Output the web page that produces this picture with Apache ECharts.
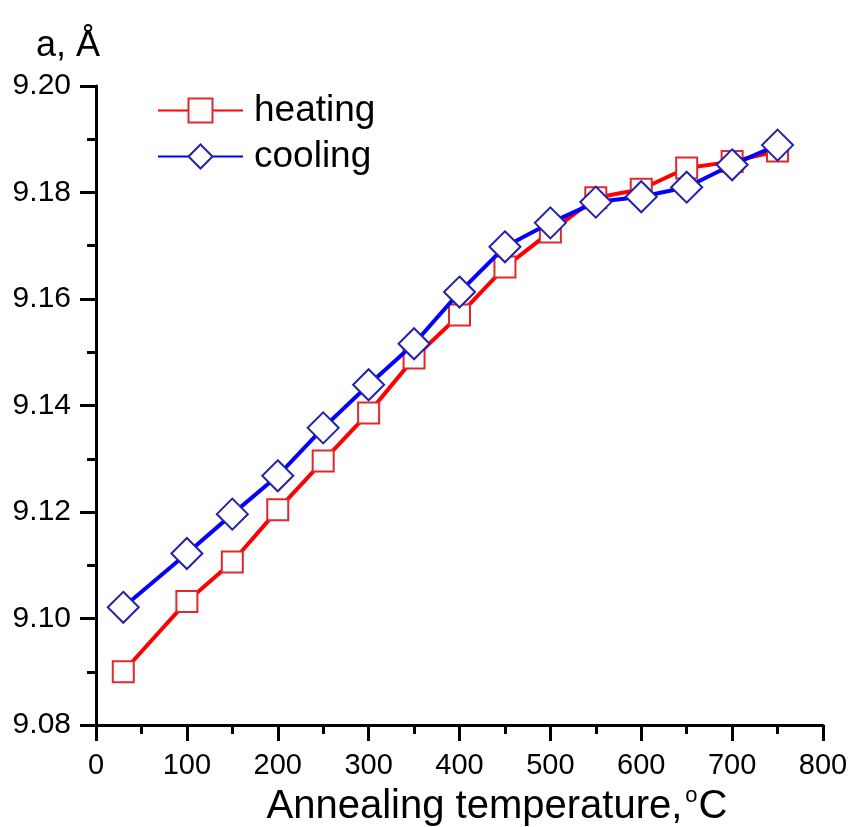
<!DOCTYPE html>
<html>
<head>
<meta charset="utf-8">
<script src="https://cdn.jsdelivr.net/npm/echarts@6/dist/echarts.min.js"></script>
<style>
html,body{margin:0;padding:0;background:#fff;}
#chart{width:851px;height:827px;}
</style>
</head>
<body>
<div id="chart"></div>
<script>
// annealing temperature, °C
const temps = [30, 100, 150, 200, 250, 300, 350, 400, 450, 500, 550, 600, 650, 700, 750]
// lattice parameter a, Å
const heating = [9.0900, 9.1032, 9.1106, 9.1204, 9.1296, 9.1386, 9.1489, 9.1570, 9.1660, 9.1726, 9.1790, 9.1806, 9.1846, 9.1858, 9.1878]
const cooling = [9.1021, 9.1122, 9.1196, 9.1268, 9.1358, 9.1439, 9.1516, 9.1613, 9.1698, 9.1743, 9.1782, 9.1792, 9.1810, 9.1852, 9.1889]
const seriesNames = ['heating', 'cooling']

const FONT = '"Liberation Sans", Arial, sans-serif'

const chart = echarts.init(document.getElementById('chart'))

const pair = (xs, ys) => xs.map((x, i) => [x, ys[i]])

const axisCommon = {
    axisLine: {show: true, onZero: false, lineStyle: {color: '#000', width: 3}},
    axisTick: {show: true, inside: false, length: 16, lineStyle: {color: '#000', width: 3}},
    minorTick: {show: true, splitNumber: 2, length: 9, lineStyle: {color: '#000', width: 3}},
    splitLine: {show: false},
    minorSplitLine: {show: false}
}

const option = {
    backgroundColor: '#fff',
    animation: false,
    textStyle: {fontFamily: FONT},
    grid: {left: 96, right: 28, top: 86, bottom: 102, containLabel: false, outerBoundsMode: 'none'},
    legend: {
        left: 157,
        top: 92,
        padding: 0,
        orient: 'vertical',
        itemWidth: 85,
        itemHeight: 30,
        itemGap: 9,
        data: seriesNames,
        textStyle: {fontSize: 37, color: '#000', fontFamily: FONT, padding: [0, 0, 0, 6]}
    },
    xAxis: Object.assign({}, axisCommon, {
        type: 'value',
        min: 0,
        max: 800,
        interval: 100,
        name: '{t|Annealing temperature,}{s|o}{t|C}',
        nameLocation: 'middle',
        nameGap: 41,
        nameTextStyle: {
            padding: [0, 0, 0, 75],
            rich: {
                t: {fontSize: 40, color: '#000', fontFamily: FONT, lineHeight: 44},
                s: {fontSize: 22, color: '#000', fontFamily: FONT, verticalAlign: 'top', lineHeight: 44, padding: [0, 1, 0, 3]}
            }
        },
        axisLabel: {fontSize: 29, color: '#000', margin: 26, fontFamily: FONT}
    }),
    yAxis: Object.assign({}, axisCommon, {
        type: 'value',
        min: 9.08,
        max: 9.20,
        interval: 0.02,
        name: 'a, Å',
        nameLocation: 'end',
        nameGap: 22,
        nameTextStyle: {fontSize: 36, color: '#000', fontFamily: FONT, align: 'right', padding: [0, -4, 0, 0]},
        axisLabel: {
            fontSize: 30, color: '#000', margin: 25, fontFamily: FONT,
            formatter: v => v.toFixed(2)
        }
    }),
    series: [
        {
            name: seriesNames[0],
            type: 'line',
            data: pair(temps, heating),
            symbol: 'rect',
            symbolSize: 21,
            lineStyle: {color: '#ff0000', width: 4},
            itemStyle: {color: '#fff', borderColor: '#e0282d', borderWidth: 2},
            z: 2
        },
        {
            name: seriesNames[1],
            type: 'line',
            data: pair(temps, cooling),
            symbol: 'diamond',
            symbolSize: 31,
            lineStyle: {color: '#0000ff', width: 4},
            itemStyle: {color: '#fff', borderColor: '#2222aa', borderWidth: 2},
            z: 3
        }
    ]
}

chart.setOption(option)
</script>
</body>
</html>
